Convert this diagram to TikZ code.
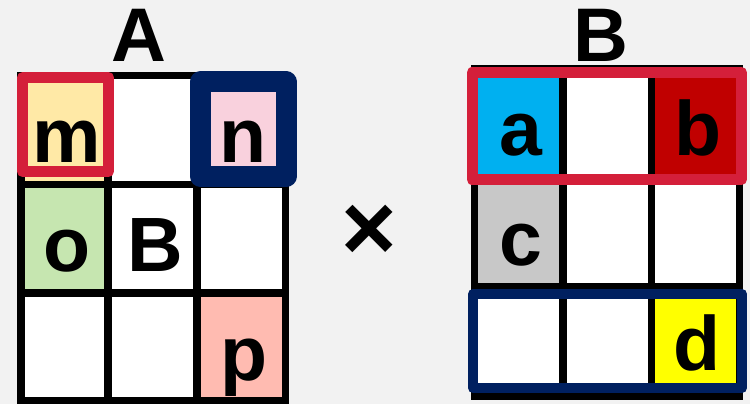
\documentclass[tikz,border=0pt]{standalone}
\usepackage{fontspec}
\setmainfont{Liberation Sans}
\definecolor{bgcol}{HTML}{F2F2F2}
\definecolor{hlred}{HTML}{D41F3A}
\definecolor{hlblue}{HTML}{002060}
\definecolor{cm}{HTML}{FFE9A6}
\definecolor{cn}{HTML}{F9D1DD}
\definecolor{co}{HTML}{C6E6B0}
\definecolor{cp}{HTML}{FFBBB1}
\definecolor{ca}{HTML}{00B0F0}
\definecolor{cb}{HTML}{C00000}
\definecolor{cc}{HTML}{C8C8C8}
\definecolor{cd}{HTML}{FFFF00}
\begin{document}
\begin{tikzpicture}[x=1pt,y=-1pt,
  cell/.style={rectangle, draw=black, line width=7.5pt, fill=white, inner sep=0pt, outer sep=0pt},
  letter/.style={font=\fontsize{77}{77}\selectfont\bfseries, anchor=base, inner sep=0pt},
  title/.style={font=\fontsize{76}{76}\selectfont\bfseries, anchor=base, inner sep=0pt},
  hl/.style={line width=11pt, line join=round},
]
\useasboundingbox (0,0) rectangle (750,404);
\fill[bgcol] (0,0) rectangle (750,404);

% Matrix A cells
\node[cell, fill=cm, minimum width=87pt, minimum height=109pt]   (A11) at (64.5,130) {};
\node[cell,          minimum width=89pt, minimum height=109pt]   (A12) at (152.5,130) {};
\node[cell, fill=cn, minimum width=88.5pt, minimum height=109pt] (A13) at (241.25,130) {};
\node[cell, fill=co, minimum width=87pt, minimum height=108.5pt]   (A21) at (64.5,238.75) {};
\node[cell,          minimum width=89pt, minimum height=108.5pt]   (A22) at (152.5,238.75) {};
\node[cell,          minimum width=88.5pt, minimum height=108.5pt] (A23) at (241.25,238.75) {};
\node[cell,          minimum width=87pt, minimum height=108pt]   (A31) at (64.5,347) {};
\node[cell,          minimum width=89pt, minimum height=108pt]   (A32) at (152.5,347) {};
\node[cell, fill=cp, minimum width=88.5pt, minimum height=108pt] (A33) at (241.25,347) {};

% Matrix B cells
\node[cell, fill=ca, minimum width=88.5pt, minimum height=111.5pt] (B11) at (518.75,124.25) {};
\node[cell,          minimum width=88.5pt, minimum height=111.5pt] (B12) at (607.25,124.25) {};
\node[cell, fill=cb, minimum width=88pt,   minimum height=111.5pt] (B13) at (695.5,124.25) {};
\node[cell, fill=cc, minimum width=88.5pt, minimum height=107pt]   (B21) at (518.75,233.5) {};
\node[cell,          minimum width=88.5pt, minimum height=107pt]   (B22) at (607.25,233.5) {};
\node[cell,          minimum width=88pt,   minimum height=107pt]   (B23) at (695.5,233.5) {};
\node[cell,          minimum width=88.5pt, minimum height=109.5pt] (B31) at (518.75,341.75) {};
\node[cell,          minimum width=88.5pt, minimum height=109.5pt] (B32) at (607.25,341.75) {};
\node[cell, fill=cd, minimum width=88pt,   minimum height=109.5pt] (B33) at (695.5,341.75) {};

% highlight boxes
\draw[hl, hlred]  (22.5,77.5) rectangle (108.5,171.5);
\draw[hl, hlblue, line width=21pt] (200.5,82) rectangle (286,176.5);
\draw[hl, hlred]  (472,72.5) rectangle (741.5,179.5);
\draw[hl, hlblue, line width=10pt] (473,294) rectangle (742,388);

% letters
\node[letter] (lm) at (67,162) {m};
\node[letter] (ln) at (243,162) {n};
\node[letter] (lo) at (67,271) {o};
\node[letter] (lB) at (155,271) {B};
\node[letter] (lp) at (244,380) {p};
\node[letter] (la) at (521,155) {a};
\node[letter] (lb) at (698,155) {b};
\node[letter] (lc) at (521,265) {c};
\node[letter] (ld) at (697,370) {d};

% titles
\node[title] (tA) at (139,62) {A};
\node[title] (tB) at (601,62) {B};

% multiply sign
\node[font=\fontsize{95}{95}\selectfont\bfseries, inner sep=0pt] (times) at (369,233) {×};
\end{tikzpicture}
\end{document}
